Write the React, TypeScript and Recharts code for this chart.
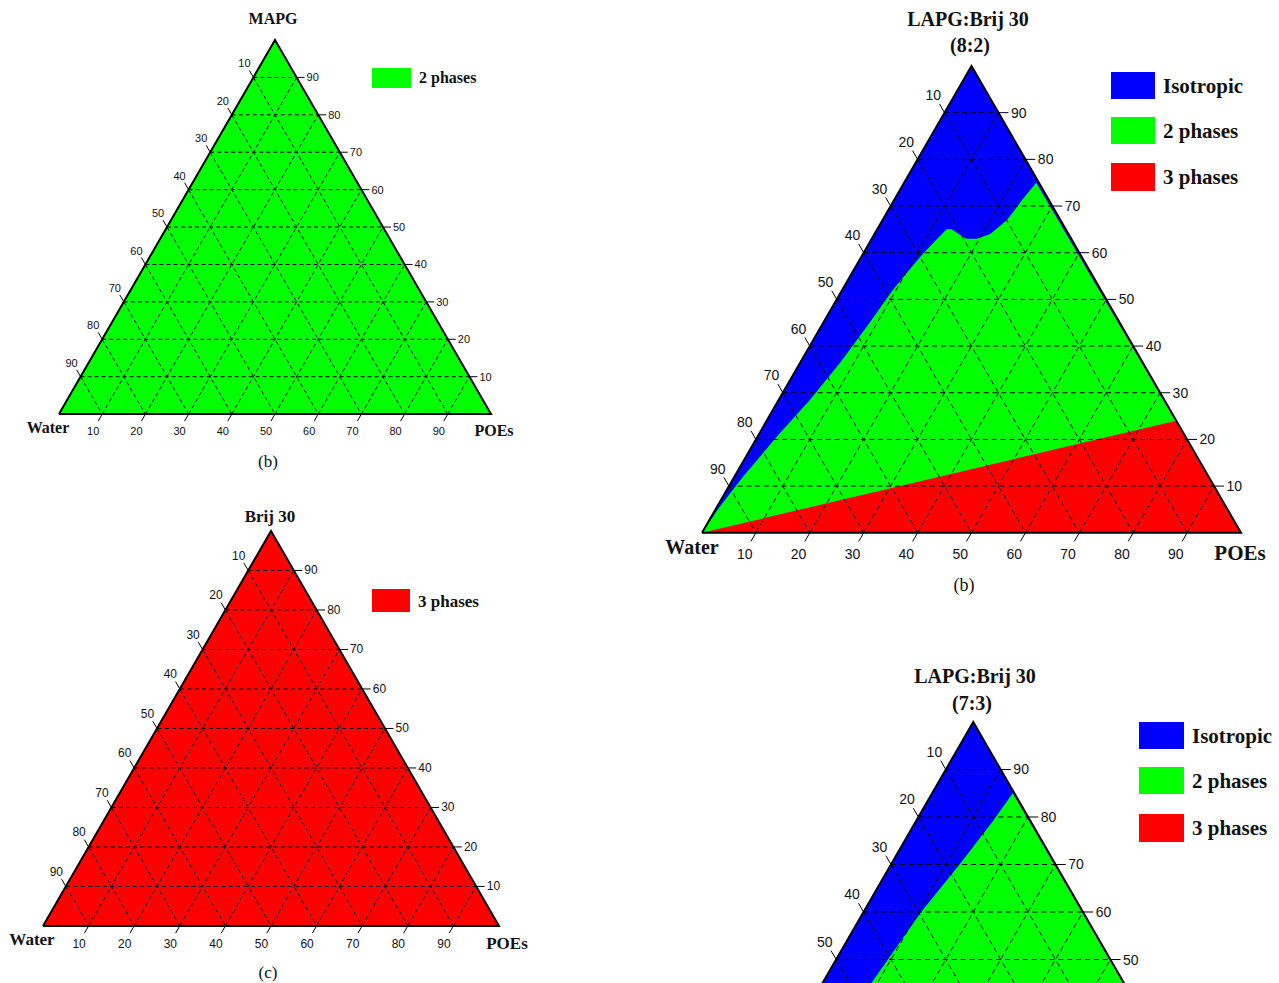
import { ComposedChart, XAxis, YAxis, Area, Line, ReferenceLine, ReferenceDot } from 'recharts'

const SQ = Math.sqrt(3) / 2
const TICKS = [10, 20, 30, 40, 50, 60, 70, 80, 90]
const TICK_LEN = 1.85 // stub length past the sides, in composition %

const BLUE = '#0000ff'
const GREEN = '#00ff00'
const RED = '#ff0000'

// LAPG:Brij 30 (8:2) - isotropic / 2 phases border, water corner -> LAPG-POEs side
const iso82Lapg = [0, 5.6, 12, 20.6, 28.5, 36.3, 44.2, 52, 56, 59, 62, 65, 65, 64, 63, 63, 64, 67, 71, 75]
const iso82Poes = [0, 0.5, 1.6, 3.6, 5.8, 7.4, 8.5, 9.4, 10.2, 10.9, 11.8, 12.9, 13.8, 15.6, 17.5, 19.5, 21.5, 23.1, 23.7, 24.5]
// 2 phases / 3 phases border (straight from the water corner)
const tri82Lapg = [0, 24]
const tri82Poes = [0, 76]

// LAPG:Brij 30 (7:3) - isotropic / 2 phases border
const iso73Lapg = [0, 45, 60, 70, 79, 85]
const iso73Poes = [0, 8.9, 10.5, 12.5, 14, 14.7]

type Pt = { x: number; y: number }

// composition (LAPG %, POEs %) -> plane coords, water fills the rest
const toXY = (lapg: number, poes: number): Pt => ({ x: (poes + lapg / 2) / 100, y: (lapg / 100) * SQ })

const WHOLE = [toXY(0, 0), toXY(100, 0), toXY(0, 100)]

// area below a border, closed along the LAPG-POEs side to the POEs corner
const underBorder = (lapg: number[], poes: number[]) => [...lapg.map((l, i) => toXY(l, poes[i])), toXY(0, 100)]

type Layer = { fill: string; pts: Pt[] }

const PAD = 60
const PAGE_H = 983

function Ternary({ wx, wy, side, layers }: { wx: number; wy: number; side: number; layers: Layer[] }) {
  const s = side / 432
  const h = side * SQ
  const top = wy - h - PAD
  const fs = Math.round(11 * s)
  const dash = `${4 * s} ${3 * s}`

  const grid = TICKS.flatMap((t) => [
    [toXY(t, 0), toXY(t, 100 - t)], // LAPG = t
    [toXY(100 - t, 0), toXY(0, 100 - t)], // water = t
    [toXY(0, t), toXY(100 - t, t)], // POEs = t
  ])

  const leftTicks = TICKS.map((t) => ({ t, a: toXY(100 - t, 0), b: toXY(100 - t + TICK_LEN, -TICK_LEN) }))
  const rightTicks = TICKS.map((t) => ({ t, a: toXY(t, 100 - t), b: toXY(t, 100 - t + TICK_LEN) }))
  const baseTicks = TICKS.map((t) => ({ t, a: toXY(0, t), b: toXY(-TICK_LEN, t) }))

  const label = (t: number, dx: number, dy: number, anchor: 'start' | 'middle') => (p: any) =>
    // labels centred below the page are left out
    top + p.cy + dy > PAGE_H ? (
      <g />
    ) : (
      <text
        x={p.cx + dx}
        y={p.cy + dy}
        textAnchor={anchor}
        dominantBaseline="central"
        fontSize={fs}
        fontFamily="Liberation Sans, Arial, sans-serif"
        fill="#111"
      >
        {t}
      </text>
    )

  return (
    <div style={{ position: 'absolute', left: wx - PAD, top }}>
      <ComposedChart width={side + 2 * PAD} height={h + 2 * PAD} margin={{ top: PAD, right: PAD, bottom: PAD, left: PAD }}>
        <XAxis type="number" dataKey="x" domain={[0, 1]} hide />
        <YAxis type="number" dataKey="y" domain={[0, SQ]} hide />
        {layers.map((l, i) => (
          <Area
            key={`layer-${i}`}
            data={l.pts}
            dataKey="y"
            type="linear"
            fill={l.fill}
            fillOpacity={1}
            stroke="none"
            isAnimationActive={false}
          />
        ))}
        {grid.map(([a, b], i) => (
          <ReferenceLine
            key={`grid-${i}`}
            segment={[a, b]}
            stroke="#000"
            strokeWidth={1}
            strokeDasharray={dash}
            ifOverflow="visible"
          />
        ))}
        {[...leftTicks, ...rightTicks, ...baseTicks].map((k, i) => (
          <ReferenceLine key={`tick-${i}`} segment={[k.a, k.b]} stroke="#000" strokeWidth={1} ifOverflow="visible" />
        ))}
        <Line
          data={[...WHOLE, WHOLE[0]]}
          dataKey="y"
          type="linear"
          stroke="#000"
          strokeWidth={2}
          dot={false}
          isAnimationActive={false}
        />
        {leftTicks.map((k) => (
          <ReferenceDot key={`ll-${k.t}`} x={k.b.x} y={k.b.y} r={0} ifOverflow="visible" shape={label(k.t, -5 * s, -7 * s, 'middle')} />
        ))}
        {rightTicks.map((k) => (
          <ReferenceDot key={`rl-${k.t}`} x={k.b.x} y={k.b.y} r={0} ifOverflow="visible" shape={label(k.t, 2 * s, 0, 'start')} />
        ))}
        {baseTicks.map((k) => (
          <ReferenceDot key={`bl-${k.t}`} x={k.b.x} y={k.b.y} r={0} ifOverflow="visible" shape={label(k.t, -5 * s, 10 * s, 'middle')} />
        ))}
      </ComposedChart>
    </div>
  )
}

const SERIF = 'Liberation Serif, Times New Roman, serif'

function Txt({ x, y, size, bold = true, children }: { x: number; y: number; size: number; bold?: boolean; children: string }) {
  return (
    <div
      style={{
        position: 'absolute',
        left: x,
        top: y,
        transform: 'translate(-50%, -50%)',
        fontFamily: SERIF,
        fontSize: size,
        fontWeight: bold ? 'bold' : 'normal',
        lineHeight: 1,
        whiteSpace: 'nowrap',
        color: '#111',
      }}
    >
      {children}
    </div>
  )
}

function Key({ x, y, w, h, color, text, size }: { x: number; y: number; w: number; h: number; color: string; text: string; size: number }) {
  return (
    <>
      <div style={{ position: 'absolute', left: x, top: y, width: w, height: h, background: color }} />
      <div
        style={{
          position: 'absolute',
          left: x + w + 8,
          top: y + h / 2,
          transform: 'translateY(-50%)',
          fontFamily: SERIF,
          fontSize: size,
          fontWeight: 'bold',
          lineHeight: 1,
          whiteSpace: 'nowrap',
          color: '#111',
        }}
      >
        {text}
      </div>
    </>
  )
}

export default function App() {
  return (
    <div style={{ position: 'absolute', left: 0, top: 0, width: 1279, height: PAGE_H, overflow: 'hidden', background: '#fff' }}>
      {/* MAPG */}
      <Ternary wx={59} wy={414} side={432} layers={[{ fill: GREEN, pts: WHOLE }]} />
      <Txt x={273} y={19} size={16}>MAPG</Txt>
      <Txt x={48} y={428} size={16}>Water</Txt>
      <Txt x={494} y={431} size={16}>POEs</Txt>
      <Txt x={268} y={461} size={17} bold={false}>(b)</Txt>
      <Key x={372} y={68} w={39} h={20} color={GREEN} text="2 phases" size={16} />

      {/* Brij 30 */}
      <Ternary wx={43} wy={926} side={456} layers={[{ fill: RED, pts: WHOLE }]} />
      <Txt x={270} y={516} size={17}>Brij 30</Txt>
      <Txt x={32} y={939} size={17}>Water</Txt>
      <Txt x={507} y={943} size={17}>POEs</Txt>
      <Txt x={268} y={972} size={17} bold={false}>(c)</Txt>
      <Key x={372} y={589} w={38} h={23} color={RED} text="3 phases" size={17} />

      {/* LAPG:Brij 30 (8:2) */}
      <Ternary
        wx={702}
        wy={533}
        side={539}
        layers={[
          { fill: BLUE, pts: WHOLE },
          { fill: GREEN, pts: underBorder(iso82Lapg, iso82Poes) },
          { fill: RED, pts: underBorder(tri82Lapg, tri82Poes) },
        ]}
      />
      <Txt x={968} y={19} size={20}>LAPG:Brij 30</Txt>
      <Txt x={970} y={45} size={20}>(8:2)</Txt>
      <Txt x={692} y={547} size={20}>Water</Txt>
      <Txt x={1240} y={553} size={21}>POEs</Txt>
      <Txt x={964} y={585} size={18} bold={false}>(b)</Txt>
      <Key x={1111} y={72} w={44} h={27} color={BLUE} text="Isotropic" size={21} />
      <Key x={1111} y={117} w={44} h={27} color={GREEN} text="2 phases" size={21} />
      <Key x={1111} y={163} w={44} h={28} color={RED} text="3 phases" size={21} />

      {/* LAPG:Brij 30 (7:3) */}
      <Ternary
        wx={698.75}
        wy={1197}
        side={548.5}
        layers={[
          { fill: BLUE, pts: WHOLE },
          { fill: GREEN, pts: underBorder(iso73Lapg, iso73Poes) },
        ]}
      />
      <Txt x={975} y={676} size={20}>LAPG:Brij 30</Txt>
      <Txt x={972} y={703} size={20}>(7:3)</Txt>
      <Key x={1139} y={722} w={45} h={27} color={BLUE} text="Isotropic" size={21} />
      <Key x={1139} y={767} w={45} h={27} color={GREEN} text="2 phases" size={21} />
      <Key x={1139} y={814} w={45} h={28} color={RED} text="3 phases" size={21} />
    </div>
  )
}
